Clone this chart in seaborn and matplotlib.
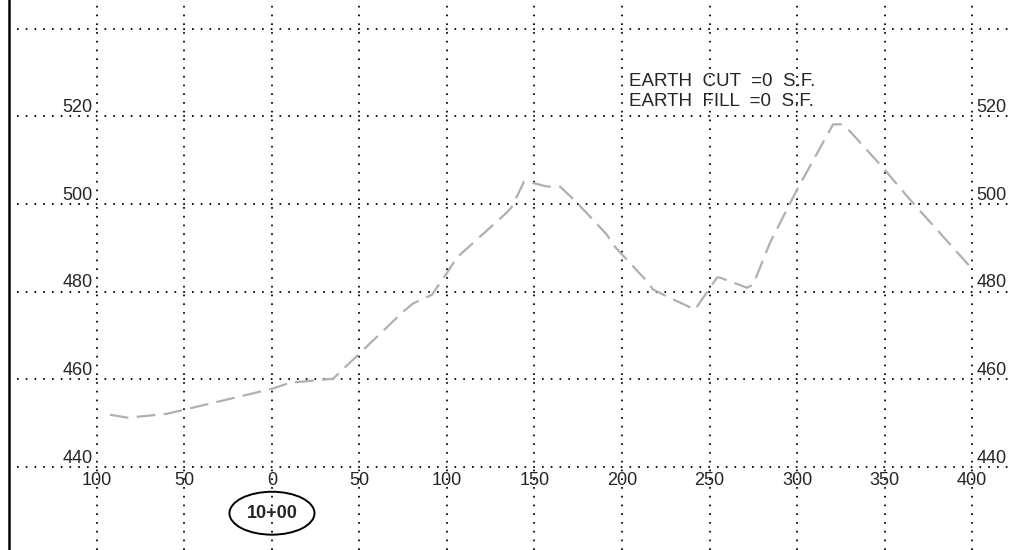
import matplotlib
matplotlib.use("Agg")
import matplotlib.pyplot as plt
from matplotlib.patches import Ellipse
import seaborn as sns
import pandas as pd

# profile (offset from 10+00, elevation)
station = [-92.6, -82.3, -60.0, 0.0, 10.3, 34.9, 74.9, 80.6, 91.4, 100.0, 105.7,
           134.3, 137.1, 144.0, 146.3, 157.1, 164.6, 174.3, 191.4, 194.9, 200.0,
           214.9, 217.7, 225.7, 241.7, 254.3, 256.0, 271.4, 274.9, 284.6, 300.0,
           320.6, 325.7, 330.3, 349.1, 364.6, 398.9]
elevation = [451.9, 451.2, 452.1, 457.8, 459.2, 460.1, 475.4, 477.3, 479.3, 484.3, 487.8,
             498.1, 499.4, 505.1, 505.1, 504.0, 504.0, 500.3, 493.0, 490.7, 488.5,
             482.1, 480.5, 478.9, 475.9, 483.2, 483.2, 480.9, 481.6, 491.2, 503.3,
             518.2, 518.2, 516.6, 508.3, 501.0, 485.7]

x_ticks = [-100, -50, 0, 50, 100, 150, 200, 250, 300, 350, 400]
x_labels = ["100", "50", "0", "50", "100", "150", "200", "250", "300", "350", "400"]
y_ticks = [440, 460, 480, 500, 520]
y_grid = [440, 460, 480, 500, 520, 540]
notes = ["EARTH  CUT  =0  S.F.", "EARTH  FILL  =0  S.F."]
station_label = "10+00"

sns.set_style("white")
plt.rcParams["font.family"] = ["Liberation Sans", "DejaVu Sans"]
plt.rcParams["lines.scale_dashes"] = False

fig = plt.figure(figsize=(10.1, 5.5), dpi=100)
ax = fig.add_axes([0, 0, 1, 1])
ax.set_xlim(-155.4, 421.7)
ax.set_ylim(421.0, 546.6)
ax.axis("off")

dot = (0, (1.2, 5.1))
for y in y_grid:
    ax.hlines(y, -145.7, 421.7, colors="black", linewidth=1.3, linestyles=[dot])
for x in x_ticks:
    ax.vlines(x, 421.0, 546.6, colors="black", linewidth=1.3, linestyles=[dot])

ax.axvline(-150.3, color="black", linewidth=1.8)

df = pd.DataFrame({"station": station, "elev": elevation})
sns.lineplot(data=df, x="station", y="elev", ax=ax, color="#b0b0b0",
             linewidth=1.6, dashes=False, sort=False)
ax.lines[-1].set_dashes((13.5, 6.0))

for y in y_ticks:
    ax.annotate(str(y), (-100, y), xytext=(-3, 3), textcoords="offset points",
                ha="right", va="baseline", fontsize=13)
    ax.annotate(str(y), (400, y), xytext=(3, 3), textcoords="offset points",
                ha="left", va="baseline", fontsize=13)
for x, lab in zip(x_ticks, x_labels):
    ax.annotate(lab, (x, 440), xytext=(0, -4), textcoords="offset points",
                ha="center", va="top", fontsize=13)

ax.text(204, 526.9, notes[0], ha="left", va="baseline", fontsize=13.5)
ax.text(204, 522.3, notes[1], ha="left", va="baseline", fontsize=13.5)

ax.add_patch(Ellipse((0, 429.4), 48.6, 9.8, fill=False, edgecolor="black", linewidth=1.4))
ax.text(0, 429.4, station_label, ha="center", va="center", fontsize=13, fontweight="bold")

fig.savefig("out.png", dpi=100)
